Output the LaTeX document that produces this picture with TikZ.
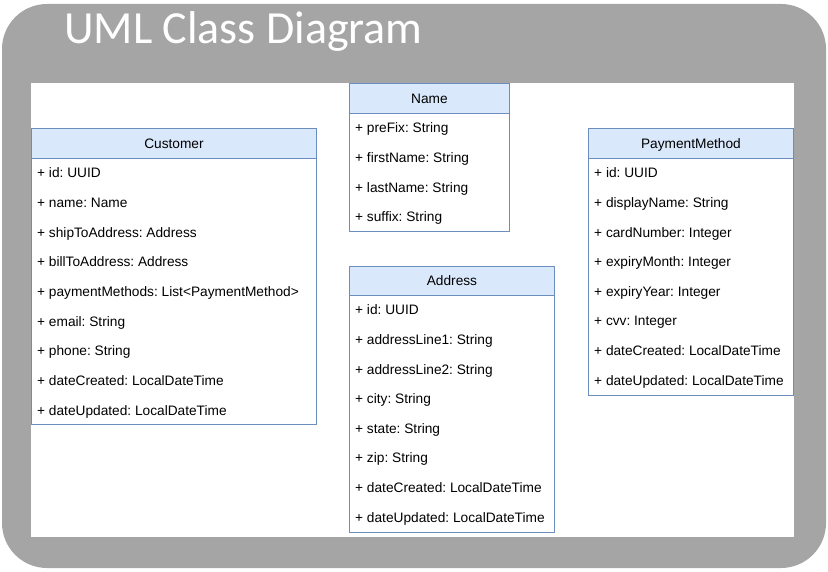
\documentclass[tikz,border=0pt]{standalone}
\usepackage{fontspec}
\setmainfont{Liberation Sans}
\newfontfamily\titlefont{Carlito}
\frenchspacing
\definecolor{umlblue}{HTML}{6C8EBF}
\definecolor{umlfill}{HTML}{DAE8FC}
\definecolor{framegray}{HTML}{A5A5A5}
\begin{document}
\begin{tikzpicture}[x=1pt,y=-1pt,
  hdr/.style={draw=umlblue, fill=umlfill, line width=0.9pt, inner sep=0pt, anchor=north west, text height=9.8pt, text depth=0pt, font=\fontsize{13.7}{16}\selectfont},
  bodybox/.style={draw=umlblue, fill=white, line width=0.9pt, inner sep=0pt, anchor=north west},
  attr/.style={anchor=base west, inner sep=0pt, font=\fontsize{13.7}{16}\selectfont\frenchspacing}]
\useasboundingbox (0,0) rectangle (828,572);
\fill[framegray, rounded corners=45pt] (2,4) rectangle (826,568);
\fill[white] (31,83) rectangle (794,537);
\node[anchor=base west, text=white, font=\titlefont\fontsize{46}{50}\selectfont, inner sep=0pt] (title) at (64,44) {UML Class Diagram};

% Customer
\node[bodybox, minimum width=285pt, minimum height=266pt] (custB) at (31,158) {};
\node[hdr, minimum width=285pt, minimum height=30pt] (cust) at (31,128) {Customer};
\foreach \t [count=\i] in {+ id: UUID, + name: Name, + shipToAddress: Address, + billToAddress: Address, + paymentMethods: List<PaymentMethod>, + email: String, + phone: String, + dateCreated: LocalDateTime, + dateUpdated: LocalDateTime}
  \node[attr] (cust-a\i) at (37,{173+29.65*(\i-1)+4.9}) {\t};

% Name
\node[bodybox, minimum width=160pt, minimum height=118pt] (nameB) at (349,113) {};
\node[hdr, minimum width=160pt, minimum height=30pt] (name) at (349,83) {Name};
\foreach \t [count=\i] in {+ preFix: String, + firstName: String, + lastName: String, + suffix: String}
  \node[attr] (name-a\i) at (355,{128+29.6*(\i-1)+4.9}) {\t};

% Address
\node[bodybox, minimum width=205pt, minimum height=237pt] (addrB) at (349,295) {};
\node[hdr, minimum width=205pt, minimum height=29pt] (addr) at (349,266) {Address};
\foreach \t [count=\i] in {+ id: UUID, + addressLine1: String, + addressLine2: String, + city: String, + state: String, + zip: String, + dateCreated: LocalDateTime, + dateUpdated: LocalDateTime}
  \node[attr] (addr-a\i) at (355,{310+29.6*(\i-1)+4.9}) {\t};

% PaymentMethod
\node[bodybox, minimum width=205pt, minimum height=237pt] (payB) at (588,158) {};
\node[hdr, minimum width=205pt, minimum height=30pt] (pay) at (588,128) {PaymentMethod};
\foreach \t [count=\i] in {+ id: UUID, + displayName: String, + cardNumber: Integer, + expiryMonth: Integer, + expiryYear: Integer, + cvv: Integer, + dateCreated: LocalDateTime, + dateUpdated: LocalDateTime}
  \node[attr] (pay-a\i) at (594,{173+29.6*(\i-1)+4.9}) {\t};
\end{tikzpicture}
\end{document}
